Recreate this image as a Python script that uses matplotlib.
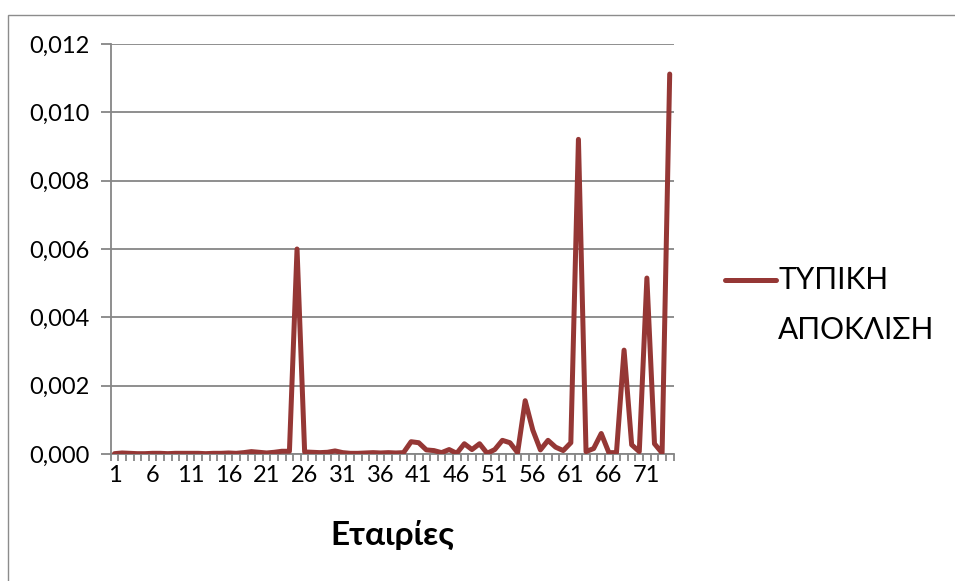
import matplotlib
matplotlib.use("Agg")
import matplotlib.pyplot as plt
from matplotlib.lines import Line2D
from matplotlib.patches import Rectangle
from matplotlib.ticker import FuncFormatter, MultipleLocator

# ΤΥΠΙΚΗ ΑΠΟΚΛΙΣΗ per company (74 companies)
companies = list(range(1, 75))
std_dev = [
    0.00001, 0.00003, 0.00002, 0.00001, 0.00001, 0.00002, 0.00002, 0.00001, 0.00002, 0.00002,
    0.00002, 0.00002, 0.00001, 0.00002, 0.00002, 0.00003, 0.00002, 0.00004, 0.00007, 0.00005,
    0.00003, 0.00005, 0.00008, 0.00008, 0.00600, 0.00006, 0.00005, 0.00004, 0.00005, 0.00009,
    0.00004, 0.00002, 0.00002, 0.00003, 0.00004, 0.00003, 0.00004, 0.00003, 0.00004, 0.00036,
    0.00033, 0.00012, 0.00010, 0.00004, 0.00013, 0.00002, 0.00030, 0.00013, 0.00030, 0.00002,
    0.00013, 0.00040, 0.00033, 0.00004, 0.00156, 0.00070, 0.00012, 0.00040, 0.00020, 0.00010,
    0.00033, 0.00921, 0.00007, 0.00016, 0.00060, 0.00004, 0.00004, 0.00304, 0.00027, 0.00007,
    0.00515, 0.00030, 0.00003, 0.01112,
]
tick_labels = [1, 6, 11, 16, 21, 26, 31, 36, 41, 46, 51, 56, 61, 66, 71]
series_name = ["ΤΥΠΙΚΗ", "ΑΠΟΚΛΙΣΗ"]

W, H = 955, 581
plt.rcParams['font.family'] = ['Lato', 'DejaVu Sans']
fig = plt.figure(figsize=(W / 100, H / 100), dpi=100)
ax = fig.add_axes([110.7 / W, 1 - 454 / H, (673.5 - 110.7) / W, (454 - 44) / H])

grid_col = "#868686"
line_col = "#953735"

ax.plot(companies, std_dev, color=line_col, lw=3.6, solid_joinstyle="round",
        solid_capstyle="round", zorder=3)

ax.set_xlim(0.5, len(companies) + 0.5)
ax.set_ylim(0, 0.012)
ax.yaxis.set_major_locator(MultipleLocator(0.002))
ax.yaxis.set_major_formatter(FuncFormatter(lambda v, p: f"{v:.3f}".replace(".", ",")))
ax.grid(axis="y", color=grid_col, lw=1.3)
ax.set_axisbelow(True)

ax.set_xticks(tick_labels)
ax.set_xticklabels([str(t) for t in tick_labels])
ax.set_xticks([i + 0.5 for i in range(0, len(companies) + 1)], minor=True)
ax.tick_params(axis="x", which="major", length=0, pad=8, labelsize=17)
ax.tick_params(axis="x", which="minor", length=5, width=1.3, color=grid_col)
ax.tick_params(axis="y", length=7, width=1.3, color=grid_col, pad=8, labelsize=17)

for s in ["top", "right"]:
    ax.spines[s].set_visible(False)
for s in ["left", "bottom"]:
    ax.spines[s].set_color(grid_col)
    ax.spines[s].set_linewidth(1.3)

ax.set_xlabel("Εταιρίες", fontsize=24, fontweight="bold", labelpad=24)

# legend drawn by hand: handle beside the first text line, as in Excel
fig.add_artist(Line2D([725 / W, 776 / W], [1 - 280 / H, 1 - 280 / H], color=line_col,
                      lw=3.6, solid_capstyle="round"))
fig.text(778 / W, 1 - 280 / H, series_name[0], fontsize=21.5, va="center", ha="left")
fig.text(778 / W, 1 - 330 / H, series_name[1], fontsize=21.5, va="center", ha="left")

fig.patches.append(Rectangle((8 / W, -0.1), 1.0, 1 - 15 / H + 0.1, transform=fig.transFigure,
                             fill=False, edgecolor="#8c8c8c", lw=1.0))

fig.savefig("out.png", dpi=100)
